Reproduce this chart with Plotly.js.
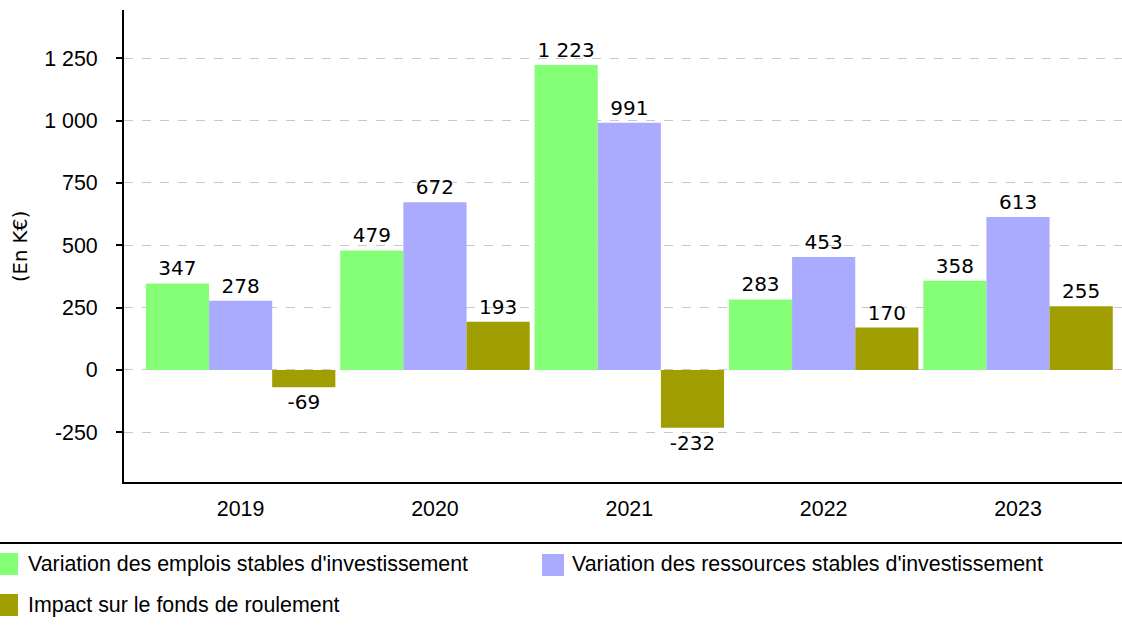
<!DOCTYPE html>
<html>
<head>
<meta charset="utf-8">
<script src="https://cdn.plot.ly/plotly-3.0.1.min.js"></script>
<style>html,body{margin:0;padding:0;background:#fff;} #chart{width:1122px;height:625px;}</style>
</head>
<body>
<div id="chart"></div>
<script>
const categories = ["2019", "2020", "2021", "2022", "2023"];
const seriesNames = [
  "Variation des emplois stables d'investissement",
  "Variation des ressources stables d'investissement",
  "Impact sur le fonds de roulement"
];
const emplois = [347, 479, 1223, 283, 358];
const ressources = [278, 672, 991, 453, 613];
const impact = [-69, 193, -232, 170, 255];
const yTickVals = [-250, 0, 250, 500, 750, 1000, 1250];
const yTitle = "(En K€)";

const fmt = v => (v < 0 ? "-" : "") + String(Math.abs(v)).replace(/\B(?=(\d{3})+(?!\d))/g, " ");

const colors = ["#85FF75", "#AAAAFF", "#A09E00"];
const W = 1122, H = 625;
const M = {l: 124, r: 0, t: 10, b: 143};
const PW = W - M.l - M.r, PH = H - M.t - M.b;
const px = x => (x - M.l) / PW;
const py = y => (H - M.b - y) / PH;
const FS = 21.4;

const data = [emplois, ressources, impact].map((vals, i) => ({
  type: "bar",
  name: seriesNames[i],
  x: categories,
  y: vals,
  marker: {color: colors[i], line: {width: 0}},
  text: vals.map(fmt),
  texttemplate: "%{text}",
  textposition: "outside",
  cliponaxis: false,
  textfont: {family: "DejaVu Sans", size: 20, color: "#000"},
  hoverinfo: "skip",
  showlegend: false
}));

const shapes = [
  {type: "line", xref: "paper", yref: "paper", x0: px(0), x1: px(W), y0: py(543), y1: py(543),
   line: {color: "#000", width: 2}}
];
const annotations = [
  {xref: "paper", yref: "paper", x: px(20), y: py(247), xanchor: "center", yanchor: "middle",
   textangle: -90, showarrow: false, text: yTitle,
   font: {family: "DejaVu Sans", size: 19.5, color: "#000"}}
];
const legendPos = [
  {sx: -4, sy: 553, tx: 26, ty: 564},
  {sx: 542, sy: 554, tx: 570, ty: 564},
  {sx: -4, sy: 594, tx: 26, ty: 605}
];
legendPos.forEach((p, i) => {
  shapes.push({type: "rect", xref: "paper", yref: "paper",
    x0: px(p.sx), x1: px(p.sx + 22), y0: py(p.sy), y1: py(p.sy + 22),
    fillcolor: colors[i], line: {width: 0}});
  annotations.push({xref: "paper", yref: "paper", x: px(p.tx), y: py(p.ty),
    xanchor: "left", yanchor: "middle", showarrow: false, text: seriesNames[i],
    font: {family: "Liberation Sans", size: FS, color: "#000"}});
});

const layout = {
  width: W, height: H,
  margin: M,
  paper_bgcolor: "#fff", plot_bgcolor: "#fff",
  barmode: "group",
  bargap: 0.025,
  bargroupgap: 0,
  showlegend: false,
  xaxis: {
    type: "category",
    range: [-0.6, 4.535],
    showline: true, linecolor: "#000", linewidth: 2,
    ticks: "", showgrid: false, zeroline: false,
    tickfont: {family: "Liberation Sans", size: FS, color: "#000"},
    ticklabelstandoff: 6
  },
  yaxis: {
    range: [-449, 1443],
    tickvals: yTickVals,
    ticktext: yTickVals.map(fmt),
    showline: true, linecolor: "#000", linewidth: 2,
    ticks: "outside", ticklen: 6, tickwidth: 2, tickcolor: "#000",
    showgrid: true, gridcolor: "#C8C8C8", griddash: "dash", gridwidth: 1,
    zeroline: false,
    tickfont: {family: "Liberation Sans", size: FS, color: "#000"},
    ticklabelstandoff: 14
  },
  shapes: shapes,
  annotations: annotations
};

Plotly.newPlot("chart", data, layout, {displayModeBar: false, staticPlot: true});
</script>
</body>
</html>
